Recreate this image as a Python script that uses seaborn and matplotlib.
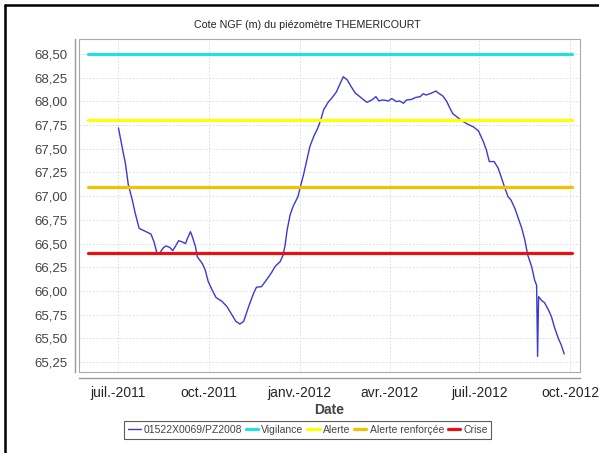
import numpy as np
import pandas as pd
import seaborn as sns
import matplotlib
matplotlib.use("Agg")
import matplotlib.pyplot as plt
from matplotlib.ticker import FuncFormatter, MultipleLocator
from matplotlib.lines import Line2D
from matplotlib.patches import Rectangle

# piezometer readings
dates = ["2011-07-01", "2011-07-06", "2011-07-08", "2011-07-11", "2011-07-15", "2011-07-18",
         "2011-07-22", "2011-07-28", "2011-08-03", "2011-08-06", "2011-08-09", "2011-08-12",
         "2011-08-15", "2011-08-18", "2011-08-22", "2011-08-25", "2011-08-28", "2011-08-31",
         "2011-09-03", "2011-09-07", "2011-09-09", "2011-09-12", "2011-09-14", "2011-09-17",
         "2011-09-19", "2011-09-24", "2011-09-27", "2011-09-30", "2011-10-04", "2011-10-08",
         "2011-10-14", "2011-10-19", "2011-10-24", "2011-10-28", "2011-10-31", "2011-11-01",
         "2011-11-05", "2011-11-10", "2011-11-15", "2011-11-18", "2011-11-23", "2011-11-28",
         "2011-12-03", "2011-12-07", "2011-12-12", "2011-12-15", "2011-12-17", "2011-12-19",
         "2011-12-22", "2011-12-25", "2011-12-30", "2012-01-02", "2012-01-05", "2012-01-08",
         "2012-01-11", "2012-01-15", "2012-01-19", "2012-01-22", "2012-01-25", "2012-01-30",
         "2012-02-02", "2012-02-07", "2012-02-10", "2012-02-14", "2012-02-18", "2012-02-22",
         "2012-02-26", "2012-03-04", "2012-03-09", "2012-03-14", "2012-03-18", "2012-03-21",
         "2012-03-25", "2012-03-31", "2012-04-03", "2012-04-08", "2012-04-11", "2012-04-15",
         "2012-04-18", "2012-04-23", "2012-04-27", "2012-05-02", "2012-05-05", "2012-05-08",
         "2012-05-13", "2012-05-18", "2012-05-20", "2012-05-25", "2012-05-29", "2012-06-01",
         "2012-06-04", "2012-06-09", "2012-06-14", "2012-06-19", "2012-06-25", "2012-06-30",
         "2012-07-05", "2012-07-08", "2012-07-11", "2012-07-16", "2012-07-20", "2012-07-23",
         "2012-07-27", "2012-07-30", "2012-08-02", "2012-08-06", "2012-08-09", "2012-08-13",
         "2012-08-16", "2012-08-19", "2012-08-23", "2012-08-26", "2012-08-28", "2012-08-29",
         "2012-08-30", "2012-09-02", "2012-09-05", "2012-09-09", "2012-09-12", "2012-09-15",
         "2012-09-19", "2012-09-22", "2012-09-25"]
levels = [67.72, 67.45, 67.35, 67.12, 66.96, 66.82,
          66.66, 66.63, 66.60, 66.52, 66.40, 66.40,
          66.45, 66.475, 66.46, 66.425, 66.475, 66.53,
          66.52, 66.50, 66.555, 66.625, 66.57, 66.47,
          66.36, 66.29, 66.22, 66.10, 66.01, 65.93,
          65.89, 65.835, 65.75, 65.68, 65.66, 65.65,
          65.68, 65.835, 65.975, 66.04, 66.045, 66.115,
          66.19, 66.26, 66.31, 66.38, 66.485, 66.64,
          66.80, 66.89, 66.995, 67.12, 67.24, 67.38,
          67.52, 67.63, 67.716, 67.80, 67.91, 67.997,
          68.03, 68.10, 68.17, 68.26, 68.226, 68.155,
          68.09, 68.03, 67.99, 68.015, 68.05, 68.005,
          68.015, 68.005, 68.03, 67.997, 68.005, 67.98,
          68.015, 68.02, 68.04, 68.05, 68.08, 68.067,
          68.085, 68.11, 68.09, 68.056, 67.997, 67.93,
          67.87, 67.83, 67.79, 67.76, 67.73, 67.69,
          67.575, 67.49, 67.365, 67.365, 67.295, 67.205,
          67.08, 66.995, 66.96, 66.87, 66.78, 66.66,
          66.54, 66.38, 66.256, 66.115, 66.06, 65.31,
          65.94, 65.90, 65.877, 65.80, 65.73, 65.62,
          65.50, 65.43, 65.335]

series_name = "01522X0069/PZ2008"
threshold_names = ["Vigilance", "Alerte", "Alerte renforçée", "Crise"]
threshold_values = [68.50, 67.80, 67.10, 66.40]
threshold_colors = ["#22e0e0", "#ffff00", "#f2c200", "#e81010"]
threshold_span = ["2011-05-31", "2012-10-03"]

x_labels = ["juil.-2011", "oct.-2011", "janv.-2012", "avr.-2012", "juil.-2012", "oct.-2012"]
x_ticks = ["2011-07-01", "2011-10-01", "2012-01-01", "2012-04-01", "2012-07-01", "2012-10-01"]

df = pd.DataFrame({"Date": pd.to_datetime(dates), "Cote": levels, "serie": series_name})
rows = []
for name, val in zip(threshold_names, threshold_values):
    for d in threshold_span:
        rows.append({"Date": pd.Timestamp(d), "Cote": val, "serie": name})
thr = pd.DataFrame(rows)

sns.set_style("white")
plt.rcParams["font.family"] = ["Liberation Sans", "DejaVu Sans"]

fig = plt.figure(figsize=(5.99, 4.53), dpi=100)
ax = fig.add_axes([79 / 599, 1 - 372 / 453, 501 / 599, 333 / 453])

# grid first so lines sit on top
ax.grid(True, color="#d8d8d8", linestyle=(0, (2, 2)), linewidth=0.6)
ax.set_axisbelow(True)

sns.lineplot(data=df, x="Date", y="Cote", color="#3a3ad0", linewidth=1.0, ax=ax,
             sort=False, legend=False)
palette = dict(zip(threshold_names, threshold_colors))
sns.lineplot(data=thr, x="Date", y="Cote", hue="serie", palette=palette,
             hue_order=threshold_names, linewidth=2.3, ax=ax, legend=False)

ax.set_xlim(pd.Timestamp("2011-05-22"), pd.Timestamp("2012-10-11"))
ax.set_ylim(65.145, 68.658)
ax.yaxis.set_major_locator(MultipleLocator(0.25))
ax.yaxis.set_major_formatter(FuncFormatter(lambda v, p: f"{v:.2f}".replace(".", ",")))
ax.set_xticks(pd.to_datetime(x_ticks))
ax.set_xticklabels(x_labels, fontweight="bold", fontsize=10, color="#444444")
ax.tick_params(axis="y", labelsize=9.5, labelcolor="#444444", length=3, color="#888888", pad=2)
ax.tick_params(axis="x", length=3, color="#888888", pad=3)
ax.set_xlabel("Date", fontweight="bold", fontsize=10, color="#444444", labelpad=2)
ax.set_ylabel("")

for s in ax.spines.values():
    s.set_color("#999999")
    s.set_linewidth(1.0)
ax.spines["top"].set_visible(False)
ax.spines["right"].set_visible(False)
ax.spines["left"].set_position(("outward", 3))
ax.spines["bottom"].set_position(("outward", 4))
ax.add_patch(Rectangle((0, 0), 1, 1, transform=ax.transAxes, fill=False,
                       edgecolor="#aaaaaa", linewidth=0.8, clip_on=False, zorder=5))

fig.text(0.513, 1 - 25 / 453, "Cote NGF (m) du piézomètre THEMERICOURT",
         ha="center", va="center", fontsize=7.7, color="#222222")

handles = [Line2D([], [], color="#3a3ad0", linewidth=1.0)]
handles += [Line2D([], [], color=c, linewidth=2.3) for c in threshold_colors]
leg = fig.legend(handles, [series_name] + threshold_names, loc="center",
                 bbox_to_anchor=(0.514, 1 - 430 / 453), ncol=5, fontsize=7.5,
                 frameon=True, fancybox=False, handlelength=1.2, handletextpad=0.3,
                 columnspacing=0.35, borderpad=0.35, borderaxespad=0)
leg.get_frame().set_edgecolor("#333333")
leg.get_frame().set_linewidth(0.8)
for t in leg.get_texts():
    t.set_color("#444444")

# chart border (only left and top edges show in the crop)
fig.add_artist(Line2D([5 / 599, 5 / 599], [0, 1 - 5 / 453], transform=fig.transFigure,
                      color="black", linewidth=1.8))
fig.add_artist(Line2D([5 / 599, 1], [1 - 5 / 453, 1 - 5 / 453], transform=fig.transFigure,
                      color="black", linewidth=1.8))

fig.savefig("out.png", dpi=100)
